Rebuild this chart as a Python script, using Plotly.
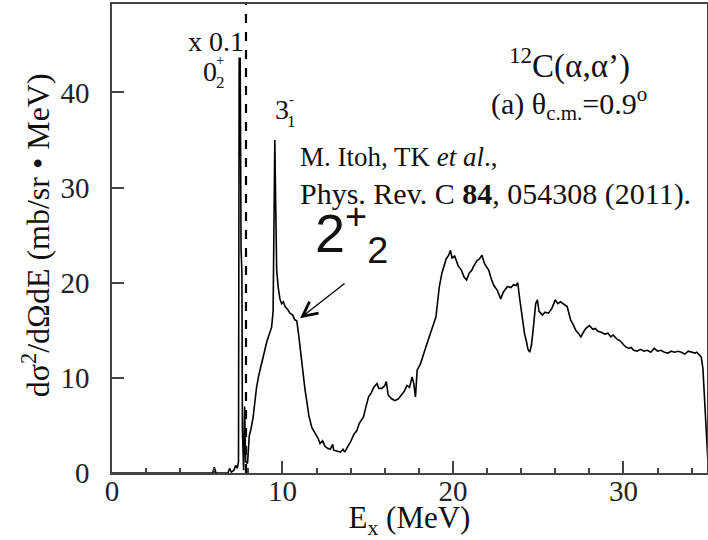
import plotly.graph_objects as go

# Excitation energy (MeV) and cross section (mb/sr MeV)
energy = [0.0, 5.9, 6.0, 6.1, 6.8, 6.9, 7.0, 7.15, 7.25, 7.35, 7.42, 7.46, 7.52, 7.55, 7.57, 7.62,
          7.65, 7.72, 7.78, 7.84, 7.95, 8.05, 8.15, 8.28, 8.38, 8.48, 8.6, 8.68, 8.8, 8.97,
          9.08, 9.17, 9.28, 9.36, 9.45, 9.5, 9.55, 9.6, 9.66, 9.75, 9.85, 9.95, 10.05, 10.15,
          10.3, 10.44, 10.6, 10.72, 10.84, 10.95, 11.03, 11.12, 11.22, 11.32, 11.42, 11.55,
          11.72, 11.85, 12.0, 12.1, 12.2, 12.35, 12.5, 12.65, 12.8, 12.95, 13.0, 13.2, 13.4,
          13.55, 13.65, 13.8, 14.0, 14.2, 14.35, 14.5, 14.75, 14.9, 15.05, 15.2, 15.35, 15.54,
          15.65, 15.83, 16.0, 16.09, 16.2, 16.4, 16.6, 16.8, 17.0, 17.15, 17.3, 17.45, 17.6,
          17.7, 17.8, 17.9, 18.1, 18.25, 18.4, 18.55, 18.7, 18.85, 19.0, 19.1, 19.2, 19.35,
          19.46, 19.6, 19.75, 19.85, 19.95, 20.1, 20.3, 20.5, 20.65, 20.8, 20.95, 21.1, 21.2,
          21.4, 21.55, 21.7, 21.85, 22.0, 22.1, 22.25, 22.4, 22.6, 22.8, 22.95, 23.1, 23.2,
          23.4, 23.55, 23.7, 23.8, 23.9, 24.0, 24.1, 24.2, 24.3, 24.4, 24.5, 24.6, 24.7, 24.8,
          24.85, 24.95, 25.05, 25.25, 25.4, 25.6, 25.8, 26.0, 26.15, 26.3, 26.5, 26.7, 26.8,
          26.9, 27.05, 27.2, 27.35, 27.5, 27.65, 27.8, 28.0, 28.2, 28.35, 28.5, 28.7, 28.9,
          29.1, 29.25, 29.4, 29.6, 29.8, 29.95, 30.1, 30.3, 30.45, 30.6, 30.8, 31.0, 31.2,
          31.4, 31.6, 31.8, 32.0, 32.2, 32.4, 32.6, 32.8, 33.0, 33.2, 33.4, 33.6, 33.8, 34.0,
          34.2, 34.3, 34.45, 34.56, 34.66, 34.75, 34.85, 34.95]
cross_section = [0.0, 0.0, 0.6, 0.0, 0.0, 0.5, 0.1, 0.3, 0.8, 0.5, 1.2, 43.6, 43.6, 31.0, 23.6, 21.0,
                 4.5, 0.3, 7.0, 1.2, 1.0, 3.9, 4.6, 5.9, 7.5, 9.0, 10.2, 10.8, 12.0, 13.2,
                 13.8, 14.3, 14.8, 15.3, 17.0, 28.0, 35.0, 28.4, 21.3, 19.5, 18.3, 17.8, 18.0, 17.5,
                 17.2, 16.8, 16.6, 16.1, 16.0, 14.5, 13.2, 11.5, 10.1, 8.8, 7.6, 6.0,
                 4.8, 4.4, 3.8, 3.6, 3.1, 3.4, 2.8, 2.6, 2.5, 3.0, 2.4, 2.3, 2.2,
                 2.5, 2.2, 2.7, 3.3, 4.1, 4.4, 5.2, 5.9, 7.0, 8.0, 8.4, 9.0, 9.4,
                 8.9, 8.9, 9.2, 9.6, 8.2, 7.8, 7.6, 7.8, 8.2, 8.6, 9.2, 9.0, 10.1,
                 9.4, 8.0, 10.8, 11.5, 12.5, 13.2, 14.0, 14.8, 15.5, 16.4, 18.0, 19.6, 21.0,
                 21.8, 22.5, 22.9, 23.4, 22.6, 22.8, 21.8, 21.3, 20.6, 20.3, 21.0, 21.3, 21.7,
                 22.3, 22.5, 22.9, 22.0, 21.5, 21.3, 20.4, 19.7, 19.2, 18.3, 19.0, 19.4, 19.6,
                 19.5, 19.8, 19.7, 20.0, 18.5, 17.0, 15.7, 14.6, 13.9, 13.0, 12.7, 13.4, 15.0, 16.8,
                 17.8, 18.2, 17.0, 16.6, 16.9, 16.8, 17.3, 18.2, 17.8, 18.0, 17.7, 17.5, 16.8,
                 16.1, 15.6, 15.0, 14.7, 14.3, 14.8, 15.2, 15.5, 15.1, 15.2, 14.9, 14.8, 14.6,
                 14.7, 14.3, 14.5, 14.1, 13.9, 13.6, 13.3, 13.1, 13.2, 12.9, 12.8, 13.0, 12.8,
                 12.9, 12.7, 13.1, 12.8, 12.9, 12.7, 12.6, 12.8, 12.7, 12.8, 12.7, 12.5, 12.8, 12.7,
                 12.6, 12.7, 12.4, 12.2, 11.0, 8.0, 4.5, 1.3]

scale_boundary = 7.86        # dashed line: x 0.1 scaling boundary
x_ticks = [0, 10, 20, 30]
y_ticks = [0, 10, 20, 30, 40]

serif = "Liberation Serif"
sans = "Liberation Sans"

fig = go.Figure()
fig.add_trace(go.Scatter(x=energy, y=cross_section, mode="lines",
                         line=dict(color="black", width=1.6), showlegend=False))

fig.add_shape(type="line", xref="x", yref="paper", x0=scale_boundary, x1=scale_boundary,
              y0=0, y1=1, line=dict(color="black", width=2.2, dash="dash"))

ann = []
def txt(x, y, s, size, family=serif, xanchor="center"):
    ann.append(dict(x=x, y=y, xref="x", yref="y", text=s, showarrow=False,
                    font=dict(family=family, size=size, color="#111"), xanchor=xanchor,
                    yanchor="middle"))

txt(7.85, 45.4, "x 0.1", 28, xanchor="right")
txt(5.75, 42.2, "0", 28)
txt(6.35, 43.4, "+", 15)
txt(6.35, 41.1, "2", 17)
txt(9.96, 38.2, "3", 28)
txt(10.55, 39.3, "-", 15)
txt(10.55, 36.9, "1", 17)
txt(30.5, 43.0, "<sup>12</sup>C(α,α’)", 33, xanchor="right")
txt(31.5, 38.8, "(a) θ<sub>c.m.</sub>=0.9<sup>o</sup>", 30, xanchor="right")
txt(10.9, 33.2, "M. Itoh, TK <i>et al</i>.,", 27, xanchor="left")
txt(10.9, 29.3, "Phys. Rev. C <b>84</b>, 054308 (2011).", 30, xanchor="left")
txt(11.8, 25.2, "2<sup>+</sup><sub>2</sub>", 54, family=sans, xanchor="left")
ann.append(dict(x=11.03, y=16.26, xref="x", yref="y", text="", showarrow=True,
                ax=46, ay=-36, arrowhead=5, arrowsize=2.2, arrowwidth=1.3,
                arrowcolor="black"))
# y-axis title as rotated text
ann.append(dict(x=-0.1277, y=0.507, xref="paper", yref="paper", textangle=-90,
                text="dσ<sup>2</sup>/dΩdE (mb/sr • MeV)", showarrow=False,
                xanchor="center", yanchor="middle",
                font=dict(family=serif, size=32, color="#111")))

axis_common = dict(showgrid=False, zeroline=False, showline=True, mirror=True,
                   linecolor="#444", linewidth=1.5, ticks="inside", tickcolor="#444",
                   tickwidth=1.5, ticklen=12, automargin=False,
                   tickfont=dict(family=serif, size=29, color="#222"))

fig.update_layout(
    width=708, height=540,
    margin=dict(l=112, r=1, t=4, b=67),
    paper_bgcolor="white", plot_bgcolor="white",
    annotations=ann,
    xaxis=dict(range=[0, 34.9], tickvals=x_ticks, ticklabelstandoff=-9,
               minor=dict(dtick=2, ticks="inside", ticklen=5, tickcolor="#444"),
               title=dict(text="E<sub>x</sub> (MeV)", font=dict(family=serif, size=31, color="#111"),
                          standoff=28),
               **axis_common),
    yaxis=dict(range=[0, 49.3], tickvals=y_ticks, ticklabelstandoff=15, **axis_common),
)

fig.write_html("out.html", post_script="document.body.style.margin='0';",
               config={"displayModeBar": False})
